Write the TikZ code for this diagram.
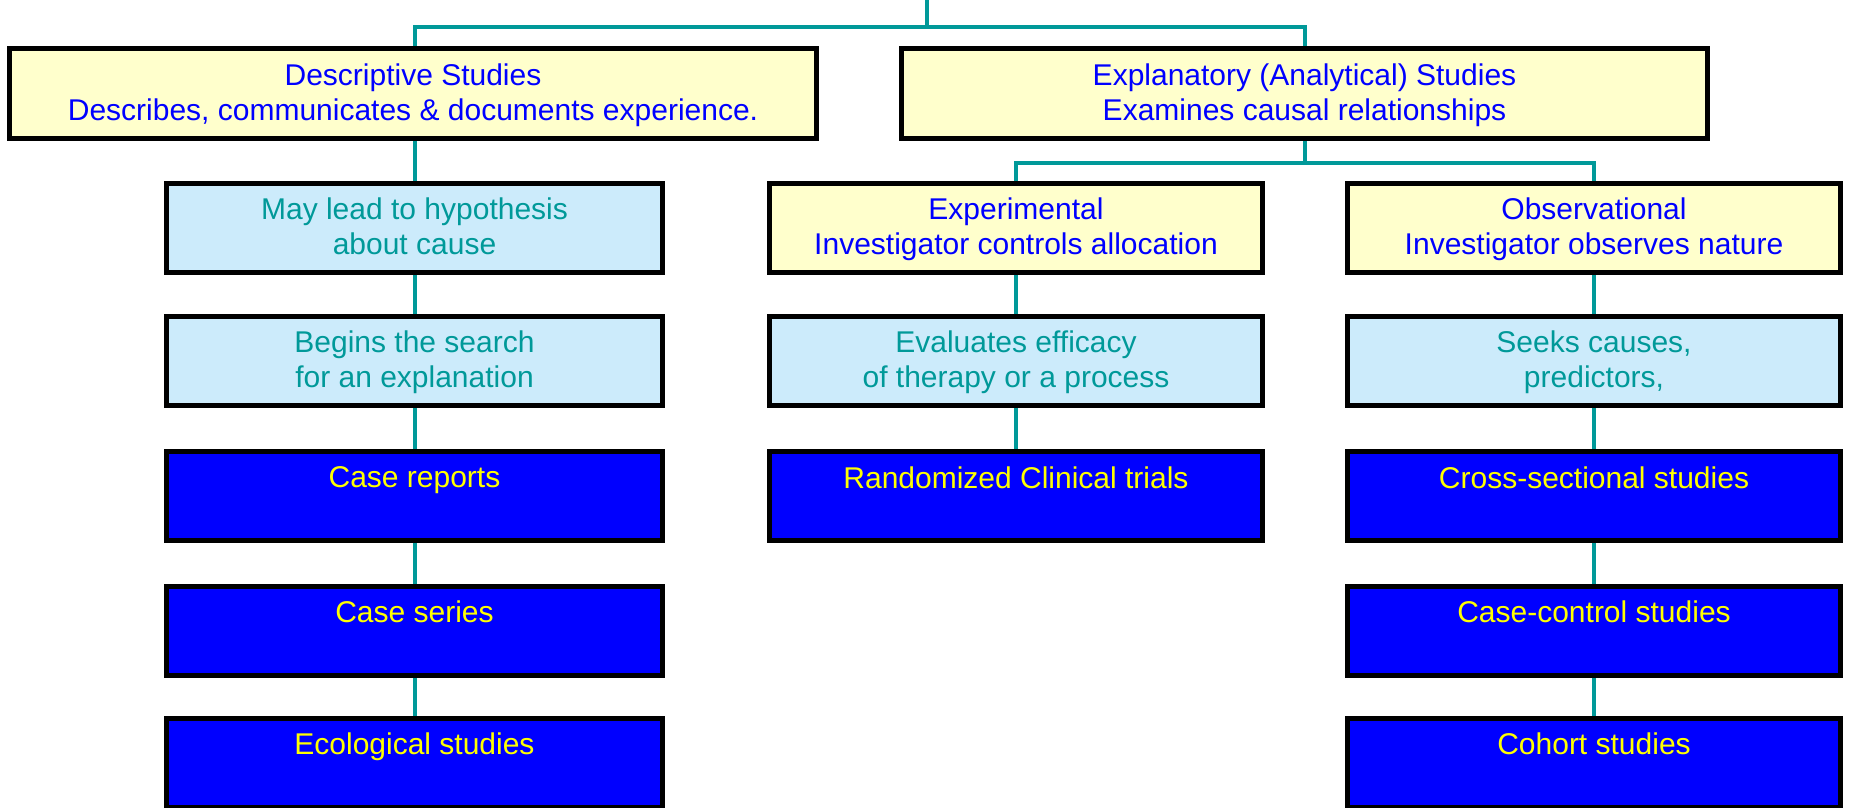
\documentclass[tikz,border=0pt]{standalone}
\usepackage{fontspec}
\setmainfont{Liberation Sans}
\usetikzlibrary{backgrounds}
\definecolor{pyellow}{HTML}{FFFFCC}
\definecolor{pblue}{HTML}{CCEBFB}
\definecolor{dblue}{HTML}{0000FF}
\definecolor{tealc}{HTML}{009999}
\definecolor{ytext}{HTML}{FFFF00}
\tikzset{
  box/.style={draw=black, line width=5pt, minimum height=89pt, align=center,
    inner sep=0pt, font=\fontsize{30}{35}\selectfont, text depth=2pt},
  ybox/.style={box, fill=pyellow, text=dblue},
  lbox/.style={box, fill=pblue, text=tealc},
  dbox/.style={box, fill=dblue, text=ytext},
  colL/.style={minimum width=496pt},
  colM/.style={minimum width=493pt},
  colR/.style={minimum width=493pt},
  conn/.style={draw=tealc, line width=4pt},
}
\begin{document}
\begin{tikzpicture}[x=1pt,y=-1pt]
\useasboundingbox (0,0) rectangle (1849,807);
% top level
\node[ybox, minimum width=807pt, minimum height=90pt] (desc) at (413,93.5)
  {Descriptive Studies\\Describes, communicates \& documents experience.};
\node[ybox, minimum width=806pt, minimum height=90pt] (expl) at (1304.5,93.5)
  {Explanatory (Analytical) Studies\\Examines causal relationships};
% left column
\node[lbox, colL] (may) at (414.5,227.5) {May lead to hypothesis\\about cause};
\node[lbox, colL] (beg) at (414.5,360.5) {Begins the search\\for an explanation};
\node[dbox, colL] (crep) at (414.5,496) {Case reports\\\mbox{}};
\node[dbox, colL] (cser) at (414.5,630.5) {Case series\\\mbox{}};
\node[dbox, colL] (eco) at (414.5,762.5) {Ecological studies\\\mbox{}};
% middle column
\node[ybox, colM] (expe) at (1016,227.5) {Experimental\\Investigator controls allocation};
\node[lbox, colM] (eval) at (1016,360.5) {Evaluates efficacy\\of therapy or a process};
\node[dbox, colM] (rct) at (1016,496) {Randomized Clinical trials\\\mbox{}};
% right column
\node[ybox, colR] (obs) at (1594,227.5) {Observational\\Investigator observes nature};
\node[lbox, colR] (seek) at (1594,360.5) {Seeks causes,\\predictors,};
\node[dbox, colR] (cross) at (1594,496) {Cross-sectional studies\\\mbox{}};
\node[dbox, colR] (cc) at (1594,630.5) {Case-control studies\\\mbox{}};
\node[dbox, colR] (coh) at (1594,762.5) {Cohort studies\\\mbox{}};
% connectors
\coordinate (top) at (927,0);
\path (top) ++(0,27) coordinate (j1);
\path (expl.south) ++(0,21.5) coordinate (j2);
\begin{pgfonlayer}{background}
\draw[conn] (top) -- (j1);
\draw[conn] (desc.north -| may.north) |- (j1) -| (expl.north);
\draw[conn] (expl.south) -- (j2);
\draw[conn] (expe.north) |- (j2) -| (obs.north);
\draw[conn] (desc.south -| may.north) -- (may.north);
\draw[conn] (may.south) -- (beg.north);
\draw[conn] (beg.south) -- (crep.north);
\draw[conn] (crep.south) -- (cser.north);
\draw[conn] (cser.south) -- (eco.north);
\draw[conn] (expe.south) -- (eval.north);
\draw[conn] (eval.south) -- (rct.north);
\draw[conn] (obs.south) -- (seek.north);
\draw[conn] (seek.south) -- (cross.north);
\draw[conn] (cross.south) -- (cc.north);
\draw[conn] (cc.south) -- (coh.north);
\end{pgfonlayer}
\end{tikzpicture}
\end{document}
